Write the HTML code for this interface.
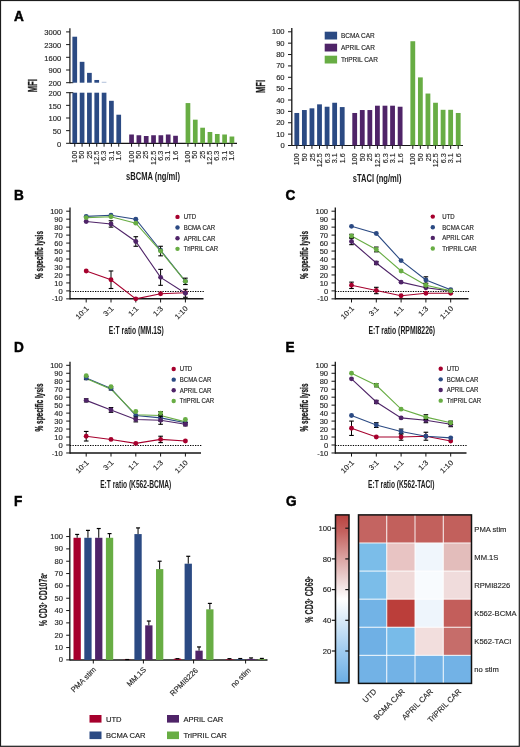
<!DOCTYPE html>
<html><head><meta charset="utf-8"><style>
html,body{margin:0;padding:0;background:#fff;}
#w{filter:opacity(0.999);width:520px;height:747px;}
svg{display:block;font-family:"Liberation Sans", sans-serif;}
text{stroke:#222;stroke-width:0.15px;}
</style></head><body><div id="w">
<svg width="520" height="747" viewBox="0 0 520 747">
<rect x="0" y="0" width="520" height="747" fill="#fff"/>
<rect x="0.5" y="0.5" width="518.8" height="745.8" fill="none" stroke="#1c1c1c" stroke-width="1.2"/>
<text font-size="14" font-weight="bold" transform="translate(14 20.8) scale(0.970 1.000)" fill="#000" style="stroke:#000;stroke-width:0.5px">A</text>
<line x1="69.9" y1="28.2" x2="69.9" y2="83.2" stroke="#151515" stroke-width="1.2"/>
<line x1="66.1" y1="31.9" x2="69.9" y2="31.9" stroke="#151515" stroke-width="1"/>
<text font-size="7.3" text-anchor="end" transform="translate(61.2 35.1) scale(1.040 1.000)" fill="#2a2a2a">3000</text>
<line x1="66.1" y1="44.6" x2="69.9" y2="44.6" stroke="#151515" stroke-width="1"/>
<text font-size="7.3" text-anchor="end" transform="translate(61.2 47.8) scale(1.040 1.000)" fill="#2a2a2a">2300</text>
<line x1="66.1" y1="57.3" x2="69.9" y2="57.3" stroke="#151515" stroke-width="1"/>
<text font-size="7.3" text-anchor="end" transform="translate(61.2 60.5) scale(1.040 1.000)" fill="#2a2a2a">1600</text>
<line x1="66.1" y1="70" x2="69.9" y2="70" stroke="#151515" stroke-width="1"/>
<text font-size="7.3" text-anchor="end" transform="translate(61.2 73.2) scale(1.040 1.000)" fill="#2a2a2a">900</text>
<line x1="66.1" y1="82.7" x2="69.9" y2="82.7" stroke="#151515" stroke-width="1"/>
<text font-size="7.3" text-anchor="end" transform="translate(61.2 85.9) scale(1.040 1.000)" fill="#2a2a2a">200</text>
<line x1="69.9" y1="82.7" x2="73.3" y2="82.7" stroke="#151515" stroke-width="1"/>
<line x1="69.9" y1="92.2" x2="69.9" y2="143.3" stroke="#151515" stroke-width="1.2"/>
<line x1="69.9" y1="92.7" x2="73.3" y2="92.7" stroke="#151515" stroke-width="1"/>
<line x1="66.1" y1="92.7" x2="69.9" y2="92.7" stroke="#151515" stroke-width="1"/>
<text font-size="7.3" text-anchor="end" transform="translate(61.2 95.9) scale(1.040 1.000)" fill="#2a2a2a">200</text>
<line x1="66.1" y1="105.35" x2="69.9" y2="105.35" stroke="#151515" stroke-width="1"/>
<text font-size="7.3" text-anchor="end" transform="translate(61.2 108.55) scale(1.040 1.000)" fill="#2a2a2a">150</text>
<line x1="66.1" y1="118" x2="69.9" y2="118" stroke="#151515" stroke-width="1"/>
<text font-size="7.3" text-anchor="end" transform="translate(61.2 121.2) scale(1.040 1.000)" fill="#2a2a2a">100</text>
<line x1="66.1" y1="130.65" x2="69.9" y2="130.65" stroke="#151515" stroke-width="1"/>
<text font-size="7.3" text-anchor="end" transform="translate(61.2 133.85) scale(1.040 1.000)" fill="#2a2a2a">50</text>
<line x1="66.1" y1="143.3" x2="69.9" y2="143.3" stroke="#151515" stroke-width="1"/>
<text font-size="7.3" text-anchor="end" transform="translate(61.2 146.5) scale(1.040 1.000)" fill="#2a2a2a">0</text>
<line x1="69.9" y1="143.3" x2="237" y2="143.3" stroke="#151515" stroke-width="1.2"/>
<text font-size="12" text-anchor="middle" font-weight="bold" transform="translate(37.4 85.7) rotate(-90) scale(0.639 1.000)" fill="#1a1a1a" style="stroke:#1a1a1a;stroke-width:0.3px">MFI</text>
<rect x="72.4" y="36.71" width="4.7" height="45.99" fill="#2b4a83"/>
<rect x="72.4" y="92.7" width="4.7" height="50.6" fill="#2b4a83"/>
<line x1="74.75" y1="143.3" x2="74.75" y2="146.7" stroke="#151515" stroke-width="1"/>
<text font-size="7.8" text-anchor="end" transform="translate(76.85 150.8) rotate(-90) scale(0.930 1.000)" fill="#2a2a2a">100</text>
<rect x="79.73" y="61.82" width="4.7" height="20.88" fill="#2b4a83"/>
<rect x="79.73" y="92.7" width="4.7" height="50.6" fill="#2b4a83"/>
<line x1="82.08" y1="143.3" x2="82.08" y2="146.7" stroke="#151515" stroke-width="1"/>
<text font-size="7.8" text-anchor="end" transform="translate(84.18 150.8) rotate(-90) scale(0.930 1.000)" fill="#2a2a2a">50</text>
<rect x="87.06" y="72.87" width="4.7" height="9.83" fill="#2b4a83"/>
<rect x="87.06" y="92.7" width="4.7" height="50.6" fill="#2b4a83"/>
<line x1="89.41" y1="143.3" x2="89.41" y2="146.7" stroke="#151515" stroke-width="1"/>
<text font-size="7.8" text-anchor="end" transform="translate(91.51 150.8) rotate(-90) scale(0.930 1.000)" fill="#2a2a2a">25</text>
<rect x="94.39" y="79.98" width="4.7" height="2.72" fill="#2b4a83"/>
<rect x="94.39" y="92.7" width="4.7" height="50.6" fill="#2b4a83"/>
<line x1="96.74" y1="143.3" x2="96.74" y2="146.7" stroke="#151515" stroke-width="1"/>
<text font-size="7.8" text-anchor="end" transform="translate(98.84 150.8) rotate(-90) scale(0.930 1.000)" fill="#2a2a2a">12.5</text>
<rect x="101.72" y="81.8" width="4.7" height="0.9" fill="#a9bad6"/>
<rect x="101.72" y="92.7" width="4.7" height="50.6" fill="#2b4a83"/>
<line x1="104.07" y1="143.3" x2="104.07" y2="146.7" stroke="#151515" stroke-width="1"/>
<text font-size="7.8" text-anchor="end" transform="translate(106.17 150.8) rotate(-90) scale(0.930 1.000)" fill="#2a2a2a">6.3</text>
<rect x="109.05" y="100.8" width="4.7" height="42.5" fill="#2b4a83"/>
<line x1="111.4" y1="143.3" x2="111.4" y2="146.7" stroke="#151515" stroke-width="1"/>
<text font-size="7.8" text-anchor="end" transform="translate(113.5 150.8) rotate(-90) scale(0.930 1.000)" fill="#2a2a2a">3.1</text>
<rect x="116.38" y="114.71" width="4.7" height="28.59" fill="#2b4a83"/>
<line x1="118.73" y1="143.3" x2="118.73" y2="146.7" stroke="#151515" stroke-width="1"/>
<text font-size="7.8" text-anchor="end" transform="translate(120.83 150.8) rotate(-90) scale(0.930 1.000)" fill="#2a2a2a">1.6</text>
<rect x="129.2" y="134.5" width="4.7" height="8.8" fill="#4f2468"/>
<line x1="131.55" y1="143.3" x2="131.55" y2="146.7" stroke="#151515" stroke-width="1"/>
<text font-size="7.8" text-anchor="end" transform="translate(133.65 150.8) rotate(-90) scale(0.930 1.000)" fill="#2a2a2a">100</text>
<rect x="136.53" y="135.25" width="4.7" height="8.05" fill="#4f2468"/>
<line x1="138.88" y1="143.3" x2="138.88" y2="146.7" stroke="#151515" stroke-width="1"/>
<text font-size="7.8" text-anchor="end" transform="translate(140.98 150.8) rotate(-90) scale(0.930 1.000)" fill="#2a2a2a">50</text>
<rect x="143.86" y="136.01" width="4.7" height="7.29" fill="#4f2468"/>
<line x1="146.21" y1="143.3" x2="146.21" y2="146.7" stroke="#151515" stroke-width="1"/>
<text font-size="7.8" text-anchor="end" transform="translate(148.31 150.8) rotate(-90) scale(0.930 1.000)" fill="#2a2a2a">25</text>
<rect x="151.19" y="135.25" width="4.7" height="8.05" fill="#4f2468"/>
<line x1="153.54" y1="143.3" x2="153.54" y2="146.7" stroke="#151515" stroke-width="1"/>
<text font-size="7.8" text-anchor="end" transform="translate(155.64 150.8) rotate(-90) scale(0.930 1.000)" fill="#2a2a2a">12.5</text>
<rect x="158.52" y="135.25" width="4.7" height="8.05" fill="#4f2468"/>
<line x1="160.87" y1="143.3" x2="160.87" y2="146.7" stroke="#151515" stroke-width="1"/>
<text font-size="7.8" text-anchor="end" transform="translate(162.97 150.8) rotate(-90) scale(0.930 1.000)" fill="#2a2a2a">6.3</text>
<rect x="165.85" y="134.5" width="4.7" height="8.8" fill="#4f2468"/>
<line x1="168.2" y1="143.3" x2="168.2" y2="146.7" stroke="#151515" stroke-width="1"/>
<text font-size="7.8" text-anchor="end" transform="translate(170.3 150.8) rotate(-90) scale(0.930 1.000)" fill="#2a2a2a">3.1</text>
<rect x="173.18" y="135.76" width="4.7" height="7.54" fill="#4f2468"/>
<line x1="175.53" y1="143.3" x2="175.53" y2="146.7" stroke="#151515" stroke-width="1"/>
<text font-size="7.8" text-anchor="end" transform="translate(177.63 150.8) rotate(-90) scale(0.930 1.000)" fill="#2a2a2a">1.6</text>
<rect x="185.6" y="103.07" width="4.7" height="40.23" fill="#68ad44"/>
<line x1="187.95" y1="143.3" x2="187.95" y2="146.7" stroke="#151515" stroke-width="1"/>
<text font-size="7.8" text-anchor="end" transform="translate(190.05 150.8) rotate(-90) scale(0.930 1.000)" fill="#2a2a2a">100</text>
<rect x="192.93" y="119.67" width="4.7" height="23.63" fill="#68ad44"/>
<line x1="195.28" y1="143.3" x2="195.28" y2="146.7" stroke="#151515" stroke-width="1"/>
<text font-size="7.8" text-anchor="end" transform="translate(197.38 150.8) rotate(-90) scale(0.930 1.000)" fill="#2a2a2a">50</text>
<rect x="200.26" y="127.72" width="4.7" height="15.58" fill="#68ad44"/>
<line x1="202.61" y1="143.3" x2="202.61" y2="146.7" stroke="#151515" stroke-width="1"/>
<text font-size="7.8" text-anchor="end" transform="translate(204.71 150.8) rotate(-90) scale(0.930 1.000)" fill="#2a2a2a">25</text>
<rect x="207.59" y="131.99" width="4.7" height="11.31" fill="#68ad44"/>
<line x1="209.94" y1="143.3" x2="209.94" y2="146.7" stroke="#151515" stroke-width="1"/>
<text font-size="7.8" text-anchor="end" transform="translate(212.04 150.8) rotate(-90) scale(0.930 1.000)" fill="#2a2a2a">12.5</text>
<rect x="214.92" y="133.99" width="4.7" height="9.31" fill="#68ad44"/>
<line x1="217.27" y1="143.3" x2="217.27" y2="146.7" stroke="#151515" stroke-width="1"/>
<text font-size="7.8" text-anchor="end" transform="translate(219.37 150.8) rotate(-90) scale(0.930 1.000)" fill="#2a2a2a">6.3</text>
<rect x="222.25" y="134.5" width="4.7" height="8.8" fill="#68ad44"/>
<line x1="224.6" y1="143.3" x2="224.6" y2="146.7" stroke="#151515" stroke-width="1"/>
<text font-size="7.8" text-anchor="end" transform="translate(226.7 150.8) rotate(-90) scale(0.930 1.000)" fill="#2a2a2a">3.1</text>
<rect x="229.58" y="136.52" width="4.7" height="6.78" fill="#68ad44"/>
<line x1="231.93" y1="143.3" x2="231.93" y2="146.7" stroke="#151515" stroke-width="1"/>
<text font-size="7.8" text-anchor="end" transform="translate(234.03 150.8) rotate(-90) scale(0.930 1.000)" fill="#2a2a2a">1.6</text>
<text font-size="10.2" font-weight="bold" transform="translate(126 179.8) scale(0.743 1.000)" fill="#1a1a1a" style="stroke:none">sBCMA (ng/ml)</text>
<line x1="291.8" y1="28.1" x2="291.8" y2="145.5" stroke="#151515" stroke-width="1.3"/>
<line x1="288" y1="145.5" x2="291.8" y2="145.5" stroke="#151515" stroke-width="1"/>
<text font-size="7.3" text-anchor="end" transform="translate(284.6 148) scale(1.040 1.000)" fill="#2a2a2a">0</text>
<line x1="288" y1="134.13" x2="291.8" y2="134.13" stroke="#151515" stroke-width="1"/>
<text font-size="7.3" text-anchor="end" transform="translate(284.6 136.63) scale(1.040 1.000)" fill="#2a2a2a">10</text>
<line x1="288" y1="122.76" x2="291.8" y2="122.76" stroke="#151515" stroke-width="1"/>
<text font-size="7.3" text-anchor="end" transform="translate(284.6 125.26) scale(1.040 1.000)" fill="#2a2a2a">20</text>
<line x1="288" y1="111.39" x2="291.8" y2="111.39" stroke="#151515" stroke-width="1"/>
<text font-size="7.3" text-anchor="end" transform="translate(284.6 113.89) scale(1.040 1.000)" fill="#2a2a2a">30</text>
<line x1="288" y1="100.02" x2="291.8" y2="100.02" stroke="#151515" stroke-width="1"/>
<text font-size="7.3" text-anchor="end" transform="translate(284.6 102.52) scale(1.040 1.000)" fill="#2a2a2a">40</text>
<line x1="288" y1="88.65" x2="291.8" y2="88.65" stroke="#151515" stroke-width="1"/>
<text font-size="7.3" text-anchor="end" transform="translate(284.6 91.15) scale(1.040 1.000)" fill="#2a2a2a">50</text>
<line x1="288" y1="77.28" x2="291.8" y2="77.28" stroke="#151515" stroke-width="1"/>
<text font-size="7.3" text-anchor="end" transform="translate(284.6 79.78) scale(1.040 1.000)" fill="#2a2a2a">60</text>
<line x1="288" y1="65.91" x2="291.8" y2="65.91" stroke="#151515" stroke-width="1"/>
<text font-size="7.3" text-anchor="end" transform="translate(284.6 68.41) scale(1.040 1.000)" fill="#2a2a2a">70</text>
<line x1="288" y1="54.54" x2="291.8" y2="54.54" stroke="#151515" stroke-width="1"/>
<text font-size="7.3" text-anchor="end" transform="translate(284.6 57.04) scale(1.040 1.000)" fill="#2a2a2a">80</text>
<line x1="288" y1="43.17" x2="291.8" y2="43.17" stroke="#151515" stroke-width="1"/>
<text font-size="7.3" text-anchor="end" transform="translate(284.6 45.67) scale(1.040 1.000)" fill="#2a2a2a">90</text>
<line x1="288" y1="31.8" x2="291.8" y2="31.8" stroke="#151515" stroke-width="1"/>
<text font-size="7.3" text-anchor="end" transform="translate(284.6 34.3) scale(1.040 1.000)" fill="#2a2a2a">100</text>
<line x1="291.8" y1="145.5" x2="463" y2="145.5" stroke="#151515" stroke-width="1.2"/>
<text font-size="12" text-anchor="middle" font-weight="bold" transform="translate(265 86.5) rotate(-90) scale(0.634 1.000)" fill="#1a1a1a" style="stroke:#1a1a1a;stroke-width:0.3px">MFI</text>
<rect x="294.4" y="112.98" width="4.8" height="32.52" fill="#2b4a83"/>
<line x1="296.8" y1="145.5" x2="296.8" y2="148.9" stroke="#151515" stroke-width="1"/>
<text font-size="7.8" text-anchor="end" transform="translate(299.4 153.1) rotate(-90) scale(0.930 1.000)" fill="#2a2a2a">100</text>
<rect x="301.97" y="110.03" width="4.8" height="35.47" fill="#2b4a83"/>
<line x1="304.37" y1="145.5" x2="304.37" y2="148.9" stroke="#151515" stroke-width="1"/>
<text font-size="7.8" text-anchor="end" transform="translate(306.97 153.1) rotate(-90) scale(0.930 1.000)" fill="#2a2a2a">50</text>
<rect x="309.54" y="108.32" width="4.8" height="37.18" fill="#2b4a83"/>
<line x1="311.94" y1="145.5" x2="311.94" y2="148.9" stroke="#151515" stroke-width="1"/>
<text font-size="7.8" text-anchor="end" transform="translate(314.54 153.1) rotate(-90) scale(0.930 1.000)" fill="#2a2a2a">25</text>
<rect x="317.11" y="104.34" width="4.8" height="41.16" fill="#2b4a83"/>
<line x1="319.51" y1="145.5" x2="319.51" y2="148.9" stroke="#151515" stroke-width="1"/>
<text font-size="7.8" text-anchor="end" transform="translate(322.11 153.1) rotate(-90) scale(0.930 1.000)" fill="#2a2a2a">12.5</text>
<rect x="324.68" y="106.73" width="4.8" height="38.77" fill="#2b4a83"/>
<line x1="327.08" y1="145.5" x2="327.08" y2="148.9" stroke="#151515" stroke-width="1"/>
<text font-size="7.8" text-anchor="end" transform="translate(329.68 153.1) rotate(-90) scale(0.930 1.000)" fill="#2a2a2a">6.3</text>
<rect x="332.25" y="102.75" width="4.8" height="42.75" fill="#2b4a83"/>
<line x1="334.65" y1="145.5" x2="334.65" y2="148.9" stroke="#151515" stroke-width="1"/>
<text font-size="7.8" text-anchor="end" transform="translate(337.25 153.1) rotate(-90) scale(0.930 1.000)" fill="#2a2a2a">3.1</text>
<rect x="339.82" y="107.07" width="4.8" height="38.43" fill="#2b4a83"/>
<line x1="342.22" y1="145.5" x2="342.22" y2="148.9" stroke="#151515" stroke-width="1"/>
<text font-size="7.8" text-anchor="end" transform="translate(344.82 153.1) rotate(-90) scale(0.930 1.000)" fill="#2a2a2a">1.6</text>
<rect x="352.3" y="112.98" width="4.8" height="32.52" fill="#4f2468"/>
<line x1="354.7" y1="145.5" x2="354.7" y2="148.9" stroke="#151515" stroke-width="1"/>
<text font-size="7.8" text-anchor="end" transform="translate(357.3 153.1) rotate(-90) scale(0.930 1.000)" fill="#2a2a2a">100</text>
<rect x="359.87" y="110.03" width="4.8" height="35.47" fill="#4f2468"/>
<line x1="362.27" y1="145.5" x2="362.27" y2="148.9" stroke="#151515" stroke-width="1"/>
<text font-size="7.8" text-anchor="end" transform="translate(364.87 153.1) rotate(-90) scale(0.930 1.000)" fill="#2a2a2a">50</text>
<rect x="367.44" y="110.03" width="4.8" height="35.47" fill="#4f2468"/>
<line x1="369.84" y1="145.5" x2="369.84" y2="148.9" stroke="#151515" stroke-width="1"/>
<text font-size="7.8" text-anchor="end" transform="translate(372.44 153.1) rotate(-90) scale(0.930 1.000)" fill="#2a2a2a">25</text>
<rect x="375.01" y="105.7" width="4.8" height="39.8" fill="#4f2468"/>
<line x1="377.41" y1="145.5" x2="377.41" y2="148.9" stroke="#151515" stroke-width="1"/>
<text font-size="7.8" text-anchor="end" transform="translate(380.01 153.1) rotate(-90) scale(0.930 1.000)" fill="#2a2a2a">12.5</text>
<rect x="382.58" y="105.7" width="4.8" height="39.8" fill="#4f2468"/>
<line x1="384.98" y1="145.5" x2="384.98" y2="148.9" stroke="#151515" stroke-width="1"/>
<text font-size="7.8" text-anchor="end" transform="translate(387.58 153.1) rotate(-90) scale(0.930 1.000)" fill="#2a2a2a">6.3</text>
<rect x="390.15" y="105.7" width="4.8" height="39.8" fill="#4f2468"/>
<line x1="392.55" y1="145.5" x2="392.55" y2="148.9" stroke="#151515" stroke-width="1"/>
<text font-size="7.8" text-anchor="end" transform="translate(395.15 153.1) rotate(-90) scale(0.930 1.000)" fill="#2a2a2a">3.1</text>
<rect x="397.72" y="106.73" width="4.8" height="38.77" fill="#4f2468"/>
<line x1="400.12" y1="145.5" x2="400.12" y2="148.9" stroke="#151515" stroke-width="1"/>
<text font-size="7.8" text-anchor="end" transform="translate(402.72 153.1) rotate(-90) scale(0.930 1.000)" fill="#2a2a2a">1.6</text>
<rect x="410.4" y="41.24" width="4.8" height="104.26" fill="#68ad44"/>
<line x1="412.8" y1="145.5" x2="412.8" y2="148.9" stroke="#151515" stroke-width="1"/>
<text font-size="7.8" text-anchor="end" transform="translate(415.4 153.1) rotate(-90) scale(0.930 1.000)" fill="#2a2a2a">100</text>
<rect x="417.97" y="77.39" width="4.8" height="68.11" fill="#68ad44"/>
<line x1="420.37" y1="145.5" x2="420.37" y2="148.9" stroke="#151515" stroke-width="1"/>
<text font-size="7.8" text-anchor="end" transform="translate(422.97 153.1) rotate(-90) scale(0.930 1.000)" fill="#2a2a2a">50</text>
<rect x="425.54" y="93.54" width="4.8" height="51.96" fill="#68ad44"/>
<line x1="427.94" y1="145.5" x2="427.94" y2="148.9" stroke="#151515" stroke-width="1"/>
<text font-size="7.8" text-anchor="end" transform="translate(430.54 153.1) rotate(-90) scale(0.930 1.000)" fill="#2a2a2a">25</text>
<rect x="433.11" y="102.75" width="4.8" height="42.75" fill="#68ad44"/>
<line x1="435.51" y1="145.5" x2="435.51" y2="148.9" stroke="#151515" stroke-width="1"/>
<text font-size="7.8" text-anchor="end" transform="translate(438.11 153.1) rotate(-90) scale(0.930 1.000)" fill="#2a2a2a">12.5</text>
<rect x="440.68" y="109.8" width="4.8" height="35.7" fill="#68ad44"/>
<line x1="443.08" y1="145.5" x2="443.08" y2="148.9" stroke="#151515" stroke-width="1"/>
<text font-size="7.8" text-anchor="end" transform="translate(445.68 153.1) rotate(-90) scale(0.930 1.000)" fill="#2a2a2a">6.3</text>
<rect x="448.25" y="109.8" width="4.8" height="35.7" fill="#68ad44"/>
<line x1="450.65" y1="145.5" x2="450.65" y2="148.9" stroke="#151515" stroke-width="1"/>
<text font-size="7.8" text-anchor="end" transform="translate(453.25 153.1) rotate(-90) scale(0.930 1.000)" fill="#2a2a2a">3.1</text>
<rect x="455.82" y="112.98" width="4.8" height="32.52" fill="#68ad44"/>
<line x1="458.22" y1="145.5" x2="458.22" y2="148.9" stroke="#151515" stroke-width="1"/>
<text font-size="7.8" text-anchor="end" transform="translate(460.82 153.1) rotate(-90) scale(0.930 1.000)" fill="#2a2a2a">1.6</text>
<text font-size="10.2" font-weight="bold" transform="translate(352.8 181.8) scale(0.743 1.000)" fill="#1a1a1a" style="stroke:none">sTACI (ng/ml)</text>
<rect x="324.7" y="31.7" width="12.4" height="7.8" fill="#2b4a83"/>
<text font-size="6.9" transform="translate(340.9 38.05) scale(0.940 1.000)" fill="#2a2a2a">BCMA CAR</text>
<rect x="324.7" y="43.7" width="12.4" height="7.8" fill="#4f2468"/>
<text font-size="6.9" transform="translate(340.9 50.05) scale(0.940 1.000)" fill="#2a2a2a">APRIL CAR</text>
<rect x="324.7" y="55.7" width="12.4" height="7.8" fill="#68ad44"/>
<text font-size="6.9" transform="translate(340.9 62.05) scale(0.940 1.000)" fill="#2a2a2a">TriPRIL CAR</text>
<text font-size="14" font-weight="bold" transform="translate(14 200.2) scale(0.970 1.000)" fill="#000" style="stroke:#000;stroke-width:0.5px">B</text>
<line x1="70" y1="207.6" x2="70" y2="299.57" stroke="#151515" stroke-width="1.3"/>
<line x1="66.2" y1="298.87" x2="70" y2="298.87" stroke="#151515" stroke-width="1"/>
<text font-size="7.3" text-anchor="end" transform="translate(62.8 301.47) scale(1.040 1.000)" fill="#2a2a2a">-10</text>
<line x1="66.2" y1="290.9" x2="70" y2="290.9" stroke="#151515" stroke-width="1"/>
<text font-size="7.3" text-anchor="end" transform="translate(62.8 293.5) scale(1.040 1.000)" fill="#2a2a2a">0</text>
<line x1="66.2" y1="282.93" x2="70" y2="282.93" stroke="#151515" stroke-width="1"/>
<text font-size="7.3" text-anchor="end" transform="translate(62.8 285.53) scale(1.040 1.000)" fill="#2a2a2a">10</text>
<line x1="66.2" y1="274.96" x2="70" y2="274.96" stroke="#151515" stroke-width="1"/>
<text font-size="7.3" text-anchor="end" transform="translate(62.8 277.56) scale(1.040 1.000)" fill="#2a2a2a">20</text>
<line x1="66.2" y1="266.99" x2="70" y2="266.99" stroke="#151515" stroke-width="1"/>
<text font-size="7.3" text-anchor="end" transform="translate(62.8 269.59) scale(1.040 1.000)" fill="#2a2a2a">30</text>
<line x1="66.2" y1="259.02" x2="70" y2="259.02" stroke="#151515" stroke-width="1"/>
<text font-size="7.3" text-anchor="end" transform="translate(62.8 261.62) scale(1.040 1.000)" fill="#2a2a2a">40</text>
<line x1="66.2" y1="251.05" x2="70" y2="251.05" stroke="#151515" stroke-width="1"/>
<text font-size="7.3" text-anchor="end" transform="translate(62.8 253.65) scale(1.040 1.000)" fill="#2a2a2a">50</text>
<line x1="66.2" y1="243.08" x2="70" y2="243.08" stroke="#151515" stroke-width="1"/>
<text font-size="7.3" text-anchor="end" transform="translate(62.8 245.68) scale(1.040 1.000)" fill="#2a2a2a">60</text>
<line x1="66.2" y1="235.11" x2="70" y2="235.11" stroke="#151515" stroke-width="1"/>
<text font-size="7.3" text-anchor="end" transform="translate(62.8 237.71) scale(1.040 1.000)" fill="#2a2a2a">70</text>
<line x1="66.2" y1="227.14" x2="70" y2="227.14" stroke="#151515" stroke-width="1"/>
<text font-size="7.3" text-anchor="end" transform="translate(62.8 229.74) scale(1.040 1.000)" fill="#2a2a2a">80</text>
<line x1="66.2" y1="219.17" x2="70" y2="219.17" stroke="#151515" stroke-width="1"/>
<text font-size="7.3" text-anchor="end" transform="translate(62.8 221.77) scale(1.040 1.000)" fill="#2a2a2a">90</text>
<line x1="66.2" y1="211.2" x2="70" y2="211.2" stroke="#151515" stroke-width="1"/>
<text font-size="7.3" text-anchor="end" transform="translate(62.8 213.8) scale(1.040 1.000)" fill="#2a2a2a">100</text>
<line x1="70" y1="298.87" x2="203.5" y2="298.87" stroke="#151515" stroke-width="1.5"/>
<line x1="70" y1="291.5" x2="204.5" y2="291.5" stroke="#000" stroke-width="1.1" stroke-dasharray="1.3 1.2"/>
<line x1="86.2" y1="298.87" x2="86.2" y2="302.47" stroke="#151515" stroke-width="1"/>
<text font-size="7.4" text-anchor="end" transform="translate(89.2 309.07) rotate(-45) scale(1.050 1.000)" fill="#2a2a2a">10:1</text>
<line x1="111" y1="298.87" x2="111" y2="302.47" stroke="#151515" stroke-width="1"/>
<text font-size="7.4" text-anchor="end" transform="translate(114 309.07) rotate(-45) scale(1.050 1.000)" fill="#2a2a2a">3:1</text>
<line x1="135.8" y1="298.87" x2="135.8" y2="302.47" stroke="#151515" stroke-width="1"/>
<text font-size="7.4" text-anchor="end" transform="translate(138.8 309.07) rotate(-45) scale(1.050 1.000)" fill="#2a2a2a">1:1</text>
<line x1="160.6" y1="298.87" x2="160.6" y2="302.47" stroke="#151515" stroke-width="1"/>
<text font-size="7.4" text-anchor="end" transform="translate(163.6 309.07) rotate(-45) scale(1.050 1.000)" fill="#2a2a2a">1:3</text>
<line x1="185.4" y1="298.87" x2="185.4" y2="302.47" stroke="#151515" stroke-width="1"/>
<text font-size="7.4" text-anchor="end" transform="translate(188.4 309.07) rotate(-45) scale(1.050 1.000)" fill="#2a2a2a">1:10</text>
<text font-size="10.5" text-anchor="middle" font-weight="bold" transform="translate(42.9 255.03) rotate(-90) scale(0.621 1.000)" fill="#1a1a1a" style="stroke:#1a1a1a;stroke-width:0.3px">% specific lysis</text>
<text font-size="10" font-weight="bold" transform="translate(108.8 334.1) scale(0.674 1.000)" fill="#1a1a1a" style="stroke:none">E:T ratio (MM.1S)</text>
<polyline points="86.2,270.97 111,279.74 135.8,298.87 160.6,293.69 185.4,292.73" fill="none" stroke="#a6002d" stroke-width="1.1"/>
<polyline points="86.2,216.38 111,215.18 135.8,219.17 160.6,250.25 185.4,281.34" fill="none" stroke="#2b4a83" stroke-width="1.1"/>
<polyline points="86.2,221.56 111,223.95 135.8,241.49 160.6,277.35 185.4,293.29" fill="none" stroke="#4f2468" stroke-width="1.1"/>
<polyline points="86.2,217.58 111,216.78 135.8,223.15 160.6,251.05 185.4,281.34" fill="none" stroke="#68ad44" stroke-width="1.1"/>
<line x1="111" y1="270.97" x2="111" y2="288.51" stroke="#000" stroke-width="1"/>
<line x1="108.7" y1="270.97" x2="113.3" y2="270.97" stroke="#000" stroke-width="1.1"/>
<line x1="108.7" y1="288.51" x2="113.3" y2="288.51" stroke="#000" stroke-width="1.1"/>
<circle cx="86.2" cy="270.97" r="2.45" fill="#a6002d"/>
<circle cx="111" cy="279.74" r="2.45" fill="#a6002d"/>
<circle cx="135.8" cy="298.87" r="2.45" fill="#a6002d"/>
<circle cx="160.6" cy="293.69" r="2.45" fill="#a6002d"/>
<circle cx="185.4" cy="292.73" r="2.45" fill="#a6002d"/>
<circle cx="86.2" cy="216.38" r="2.45" fill="#2b4a83"/>
<circle cx="111" cy="215.18" r="2.45" fill="#2b4a83"/>
<circle cx="135.8" cy="219.17" r="2.45" fill="#2b4a83"/>
<circle cx="160.6" cy="250.25" r="2.45" fill="#2b4a83"/>
<circle cx="185.4" cy="281.34" r="2.45" fill="#2b4a83"/>
<line x1="111" y1="220.76" x2="111" y2="227.14" stroke="#000" stroke-width="1"/>
<line x1="108.7" y1="220.76" x2="113.3" y2="220.76" stroke="#000" stroke-width="1.1"/>
<line x1="108.7" y1="227.14" x2="113.3" y2="227.14" stroke="#000" stroke-width="1.1"/>
<line x1="135.8" y1="236.7" x2="135.8" y2="246.27" stroke="#000" stroke-width="1"/>
<line x1="133.5" y1="236.7" x2="138.1" y2="236.7" stroke="#000" stroke-width="1.1"/>
<line x1="133.5" y1="246.27" x2="138.1" y2="246.27" stroke="#000" stroke-width="1.1"/>
<line x1="160.6" y1="269.38" x2="160.6" y2="285.32" stroke="#000" stroke-width="1"/>
<line x1="158.3" y1="269.38" x2="162.9" y2="269.38" stroke="#000" stroke-width="1.1"/>
<line x1="158.3" y1="285.32" x2="162.9" y2="285.32" stroke="#000" stroke-width="1.1"/>
<line x1="185.4" y1="289.31" x2="185.4" y2="297.28" stroke="#000" stroke-width="1"/>
<line x1="183.1" y1="289.31" x2="187.7" y2="289.31" stroke="#000" stroke-width="1.1"/>
<line x1="183.1" y1="297.28" x2="187.7" y2="297.28" stroke="#000" stroke-width="1.1"/>
<circle cx="86.2" cy="221.56" r="2.45" fill="#4f2468"/>
<circle cx="111" cy="223.95" r="2.45" fill="#4f2468"/>
<circle cx="135.8" cy="241.49" r="2.45" fill="#4f2468"/>
<circle cx="160.6" cy="277.35" r="2.45" fill="#4f2468"/>
<circle cx="185.4" cy="293.29" r="2.45" fill="#4f2468"/>
<line x1="160.6" y1="246.27" x2="160.6" y2="255.83" stroke="#000" stroke-width="1"/>
<line x1="158.3" y1="246.27" x2="162.9" y2="246.27" stroke="#000" stroke-width="1.1"/>
<line x1="158.3" y1="255.83" x2="162.9" y2="255.83" stroke="#000" stroke-width="1.1"/>
<line x1="185.4" y1="278.15" x2="185.4" y2="284.52" stroke="#000" stroke-width="1"/>
<line x1="183.1" y1="278.15" x2="187.7" y2="278.15" stroke="#000" stroke-width="1.1"/>
<line x1="183.1" y1="284.52" x2="187.7" y2="284.52" stroke="#000" stroke-width="1.1"/>
<circle cx="86.2" cy="217.58" r="2.45" fill="#68ad44"/>
<circle cx="111" cy="216.78" r="2.45" fill="#68ad44"/>
<circle cx="135.8" cy="223.15" r="2.45" fill="#68ad44"/>
<circle cx="160.6" cy="251.05" r="2.45" fill="#68ad44"/>
<circle cx="185.4" cy="281.34" r="2.45" fill="#68ad44"/>
<circle cx="177.5" cy="216.9" r="2.2" fill="#a6002d"/>
<text font-size="6.5" transform="translate(183.7 219.2) scale(0.930 1.000)" fill="#2a2a2a">UTD</text>
<circle cx="177.5" cy="227.55" r="2.2" fill="#2b4a83"/>
<text font-size="6.5" transform="translate(183.7 229.85) scale(0.930 1.000)" fill="#2a2a2a">BCMA CAR</text>
<circle cx="177.5" cy="238.2" r="2.2" fill="#4f2468"/>
<text font-size="6.5" transform="translate(183.7 240.5) scale(0.930 1.000)" fill="#2a2a2a">APRIL CAR</text>
<circle cx="177.5" cy="248.85" r="2.2" fill="#68ad44"/>
<text font-size="6.5" transform="translate(183.7 251.15) scale(0.930 1.000)" fill="#2a2a2a">TriPRIL CAR</text>
<text font-size="14" font-weight="bold" transform="translate(285.6 200.2) scale(0.970 1.000)" fill="#000" style="stroke:#000;stroke-width:0.5px">C</text>
<line x1="335.3" y1="207.6" x2="335.3" y2="299.57" stroke="#151515" stroke-width="1.3"/>
<line x1="331.5" y1="298.87" x2="335.3" y2="298.87" stroke="#151515" stroke-width="1"/>
<text font-size="7.3" text-anchor="end" transform="translate(328.1 301.47) scale(1.040 1.000)" fill="#2a2a2a">-10</text>
<line x1="331.5" y1="290.9" x2="335.3" y2="290.9" stroke="#151515" stroke-width="1"/>
<text font-size="7.3" text-anchor="end" transform="translate(328.1 293.5) scale(1.040 1.000)" fill="#2a2a2a">0</text>
<line x1="331.5" y1="282.93" x2="335.3" y2="282.93" stroke="#151515" stroke-width="1"/>
<text font-size="7.3" text-anchor="end" transform="translate(328.1 285.53) scale(1.040 1.000)" fill="#2a2a2a">10</text>
<line x1="331.5" y1="274.96" x2="335.3" y2="274.96" stroke="#151515" stroke-width="1"/>
<text font-size="7.3" text-anchor="end" transform="translate(328.1 277.56) scale(1.040 1.000)" fill="#2a2a2a">20</text>
<line x1="331.5" y1="266.99" x2="335.3" y2="266.99" stroke="#151515" stroke-width="1"/>
<text font-size="7.3" text-anchor="end" transform="translate(328.1 269.59) scale(1.040 1.000)" fill="#2a2a2a">30</text>
<line x1="331.5" y1="259.02" x2="335.3" y2="259.02" stroke="#151515" stroke-width="1"/>
<text font-size="7.3" text-anchor="end" transform="translate(328.1 261.62) scale(1.040 1.000)" fill="#2a2a2a">40</text>
<line x1="331.5" y1="251.05" x2="335.3" y2="251.05" stroke="#151515" stroke-width="1"/>
<text font-size="7.3" text-anchor="end" transform="translate(328.1 253.65) scale(1.040 1.000)" fill="#2a2a2a">50</text>
<line x1="331.5" y1="243.08" x2="335.3" y2="243.08" stroke="#151515" stroke-width="1"/>
<text font-size="7.3" text-anchor="end" transform="translate(328.1 245.68) scale(1.040 1.000)" fill="#2a2a2a">60</text>
<line x1="331.5" y1="235.11" x2="335.3" y2="235.11" stroke="#151515" stroke-width="1"/>
<text font-size="7.3" text-anchor="end" transform="translate(328.1 237.71) scale(1.040 1.000)" fill="#2a2a2a">70</text>
<line x1="331.5" y1="227.14" x2="335.3" y2="227.14" stroke="#151515" stroke-width="1"/>
<text font-size="7.3" text-anchor="end" transform="translate(328.1 229.74) scale(1.040 1.000)" fill="#2a2a2a">80</text>
<line x1="331.5" y1="219.17" x2="335.3" y2="219.17" stroke="#151515" stroke-width="1"/>
<text font-size="7.3" text-anchor="end" transform="translate(328.1 221.77) scale(1.040 1.000)" fill="#2a2a2a">90</text>
<line x1="331.5" y1="211.2" x2="335.3" y2="211.2" stroke="#151515" stroke-width="1"/>
<text font-size="7.3" text-anchor="end" transform="translate(328.1 213.8) scale(1.040 1.000)" fill="#2a2a2a">100</text>
<line x1="335.3" y1="298.87" x2="468.5" y2="298.87" stroke="#151515" stroke-width="1.5"/>
<line x1="335.3" y1="291.5" x2="469.5" y2="291.5" stroke="#000" stroke-width="1.1" stroke-dasharray="1.3 1.2"/>
<line x1="351.5" y1="298.87" x2="351.5" y2="302.47" stroke="#151515" stroke-width="1"/>
<text font-size="7.4" text-anchor="end" transform="translate(354.5 309.07) rotate(-45) scale(1.050 1.000)" fill="#2a2a2a">10:1</text>
<line x1="376.3" y1="298.87" x2="376.3" y2="302.47" stroke="#151515" stroke-width="1"/>
<text font-size="7.4" text-anchor="end" transform="translate(379.3 309.07) rotate(-45) scale(1.050 1.000)" fill="#2a2a2a">3:1</text>
<line x1="401.1" y1="298.87" x2="401.1" y2="302.47" stroke="#151515" stroke-width="1"/>
<text font-size="7.4" text-anchor="end" transform="translate(404.1 309.07) rotate(-45) scale(1.050 1.000)" fill="#2a2a2a">1:1</text>
<line x1="425.9" y1="298.87" x2="425.9" y2="302.47" stroke="#151515" stroke-width="1"/>
<text font-size="7.4" text-anchor="end" transform="translate(428.9 309.07) rotate(-45) scale(1.050 1.000)" fill="#2a2a2a">1:3</text>
<line x1="450.7" y1="298.87" x2="450.7" y2="302.47" stroke="#151515" stroke-width="1"/>
<text font-size="7.4" text-anchor="end" transform="translate(453.7 309.07) rotate(-45) scale(1.050 1.000)" fill="#2a2a2a">1:10</text>
<text font-size="10.5" text-anchor="middle" font-weight="bold" transform="translate(308.3 255.03) rotate(-90) scale(0.621 1.000)" fill="#1a1a1a" style="stroke:#1a1a1a;stroke-width:0.3px">% specific lysis</text>
<text font-size="10" font-weight="bold" transform="translate(368.4 334.1) scale(0.687 1.000)" fill="#1a1a1a" style="stroke:none">E:T ratio (RPMI8226)</text>
<polyline points="351.5,285.32 376.3,290.5 401.1,295.68 425.9,293.29 450.7,293.29" fill="none" stroke="#a6002d" stroke-width="1.1"/>
<polyline points="351.5,226.34 376.3,233.52 401.1,260.61 425.9,279.98 450.7,289.7" fill="none" stroke="#2b4a83" stroke-width="1.1"/>
<polyline points="351.5,241.49 376.3,263 401.1,282.13 425.9,287.71 450.7,290.9" fill="none" stroke="#4f2468" stroke-width="1.1"/>
<polyline points="351.5,235.91 376.3,249.46 401.1,270.97 425.9,285.32 450.7,290.9" fill="none" stroke="#68ad44" stroke-width="1.1"/>
<line x1="351.5" y1="282.13" x2="351.5" y2="288.51" stroke="#000" stroke-width="1"/>
<line x1="349.2" y1="282.13" x2="353.8" y2="282.13" stroke="#000" stroke-width="1.1"/>
<line x1="349.2" y1="288.51" x2="353.8" y2="288.51" stroke="#000" stroke-width="1.1"/>
<line x1="376.3" y1="287.31" x2="376.3" y2="293.69" stroke="#000" stroke-width="1"/>
<line x1="374" y1="287.31" x2="378.6" y2="287.31" stroke="#000" stroke-width="1.1"/>
<line x1="374" y1="293.69" x2="378.6" y2="293.69" stroke="#000" stroke-width="1.1"/>
<circle cx="351.5" cy="285.32" r="2.45" fill="#a6002d"/>
<circle cx="376.3" cy="290.5" r="2.45" fill="#a6002d"/>
<circle cx="401.1" cy="295.68" r="2.45" fill="#a6002d"/>
<circle cx="425.9" cy="293.29" r="2.45" fill="#a6002d"/>
<circle cx="450.7" cy="293.29" r="2.45" fill="#a6002d"/>
<line x1="425.9" y1="276.79" x2="425.9" y2="283.17" stroke="#000" stroke-width="1"/>
<line x1="423.6" y1="276.79" x2="428.2" y2="276.79" stroke="#000" stroke-width="1.1"/>
<line x1="423.6" y1="283.17" x2="428.2" y2="283.17" stroke="#000" stroke-width="1.1"/>
<circle cx="351.5" cy="226.34" r="2.45" fill="#2b4a83"/>
<circle cx="376.3" cy="233.52" r="2.45" fill="#2b4a83"/>
<circle cx="401.1" cy="260.61" r="2.45" fill="#2b4a83"/>
<circle cx="425.9" cy="279.98" r="2.45" fill="#2b4a83"/>
<circle cx="450.7" cy="289.7" r="2.45" fill="#2b4a83"/>
<line x1="351.5" y1="238.3" x2="351.5" y2="244.67" stroke="#000" stroke-width="1"/>
<line x1="349.2" y1="238.3" x2="353.8" y2="238.3" stroke="#000" stroke-width="1.1"/>
<line x1="349.2" y1="244.67" x2="353.8" y2="244.67" stroke="#000" stroke-width="1.1"/>
<line x1="376.3" y1="261.41" x2="376.3" y2="264.6" stroke="#000" stroke-width="1"/>
<line x1="374" y1="261.41" x2="378.6" y2="261.41" stroke="#000" stroke-width="1.1"/>
<line x1="374" y1="264.6" x2="378.6" y2="264.6" stroke="#000" stroke-width="1.1"/>
<circle cx="351.5" cy="241.49" r="2.45" fill="#4f2468"/>
<circle cx="376.3" cy="263" r="2.45" fill="#4f2468"/>
<circle cx="401.1" cy="282.13" r="2.45" fill="#4f2468"/>
<circle cx="425.9" cy="287.71" r="2.45" fill="#4f2468"/>
<circle cx="450.7" cy="290.9" r="2.45" fill="#4f2468"/>
<line x1="351.5" y1="234.31" x2="351.5" y2="237.5" stroke="#000" stroke-width="1"/>
<line x1="349.2" y1="234.31" x2="353.8" y2="234.31" stroke="#000" stroke-width="1.1"/>
<line x1="349.2" y1="237.5" x2="353.8" y2="237.5" stroke="#000" stroke-width="1.1"/>
<line x1="376.3" y1="247.06" x2="376.3" y2="251.85" stroke="#000" stroke-width="1"/>
<line x1="374" y1="247.06" x2="378.6" y2="247.06" stroke="#000" stroke-width="1.1"/>
<line x1="374" y1="251.85" x2="378.6" y2="251.85" stroke="#000" stroke-width="1.1"/>
<line x1="425.9" y1="283.73" x2="425.9" y2="286.91" stroke="#000" stroke-width="1"/>
<line x1="423.6" y1="283.73" x2="428.2" y2="283.73" stroke="#000" stroke-width="1.1"/>
<line x1="423.6" y1="286.91" x2="428.2" y2="286.91" stroke="#000" stroke-width="1.1"/>
<circle cx="351.5" cy="235.91" r="2.45" fill="#68ad44"/>
<circle cx="376.3" cy="249.46" r="2.45" fill="#68ad44"/>
<circle cx="401.1" cy="270.97" r="2.45" fill="#68ad44"/>
<circle cx="425.9" cy="285.32" r="2.45" fill="#68ad44"/>
<circle cx="450.7" cy="290.9" r="2.45" fill="#68ad44"/>
<circle cx="432.8" cy="216.6" r="2.2" fill="#a6002d"/>
<text font-size="6.5" transform="translate(442.3 218.9) scale(0.930 1.000)" fill="#2a2a2a">UTD</text>
<circle cx="432.8" cy="227.25" r="2.2" fill="#2b4a83"/>
<text font-size="6.5" transform="translate(442.3 229.55) scale(0.930 1.000)" fill="#2a2a2a">BCMA CAR</text>
<circle cx="432.8" cy="237.9" r="2.2" fill="#4f2468"/>
<text font-size="6.5" transform="translate(442.3 240.2) scale(0.930 1.000)" fill="#2a2a2a">APRIL CAR</text>
<circle cx="432.8" cy="248.55" r="2.2" fill="#68ad44"/>
<text font-size="6.5" transform="translate(442.3 250.85) scale(0.930 1.000)" fill="#2a2a2a">TriPRIL CAR</text>
<text font-size="14" font-weight="bold" transform="translate(14 352.1) scale(0.970 1.000)" fill="#000" style="stroke:#000;stroke-width:0.5px">D</text>
<line x1="70" y1="361.7" x2="70" y2="453.67" stroke="#151515" stroke-width="1.3"/>
<line x1="66.2" y1="452.97" x2="70" y2="452.97" stroke="#151515" stroke-width="1"/>
<text font-size="7.3" text-anchor="end" transform="translate(62.8 455.57) scale(1.040 1.000)" fill="#2a2a2a">-10</text>
<line x1="66.2" y1="445" x2="70" y2="445" stroke="#151515" stroke-width="1"/>
<text font-size="7.3" text-anchor="end" transform="translate(62.8 447.6) scale(1.040 1.000)" fill="#2a2a2a">0</text>
<line x1="66.2" y1="437.03" x2="70" y2="437.03" stroke="#151515" stroke-width="1"/>
<text font-size="7.3" text-anchor="end" transform="translate(62.8 439.63) scale(1.040 1.000)" fill="#2a2a2a">10</text>
<line x1="66.2" y1="429.06" x2="70" y2="429.06" stroke="#151515" stroke-width="1"/>
<text font-size="7.3" text-anchor="end" transform="translate(62.8 431.66) scale(1.040 1.000)" fill="#2a2a2a">20</text>
<line x1="66.2" y1="421.09" x2="70" y2="421.09" stroke="#151515" stroke-width="1"/>
<text font-size="7.3" text-anchor="end" transform="translate(62.8 423.69) scale(1.040 1.000)" fill="#2a2a2a">30</text>
<line x1="66.2" y1="413.12" x2="70" y2="413.12" stroke="#151515" stroke-width="1"/>
<text font-size="7.3" text-anchor="end" transform="translate(62.8 415.72) scale(1.040 1.000)" fill="#2a2a2a">40</text>
<line x1="66.2" y1="405.15" x2="70" y2="405.15" stroke="#151515" stroke-width="1"/>
<text font-size="7.3" text-anchor="end" transform="translate(62.8 407.75) scale(1.040 1.000)" fill="#2a2a2a">50</text>
<line x1="66.2" y1="397.18" x2="70" y2="397.18" stroke="#151515" stroke-width="1"/>
<text font-size="7.3" text-anchor="end" transform="translate(62.8 399.78) scale(1.040 1.000)" fill="#2a2a2a">60</text>
<line x1="66.2" y1="389.21" x2="70" y2="389.21" stroke="#151515" stroke-width="1"/>
<text font-size="7.3" text-anchor="end" transform="translate(62.8 391.81) scale(1.040 1.000)" fill="#2a2a2a">70</text>
<line x1="66.2" y1="381.24" x2="70" y2="381.24" stroke="#151515" stroke-width="1"/>
<text font-size="7.3" text-anchor="end" transform="translate(62.8 383.84) scale(1.040 1.000)" fill="#2a2a2a">80</text>
<line x1="66.2" y1="373.27" x2="70" y2="373.27" stroke="#151515" stroke-width="1"/>
<text font-size="7.3" text-anchor="end" transform="translate(62.8 375.87) scale(1.040 1.000)" fill="#2a2a2a">90</text>
<line x1="66.2" y1="365.3" x2="70" y2="365.3" stroke="#151515" stroke-width="1"/>
<text font-size="7.3" text-anchor="end" transform="translate(62.8 367.9) scale(1.040 1.000)" fill="#2a2a2a">100</text>
<line x1="70" y1="452.97" x2="201" y2="452.97" stroke="#151515" stroke-width="1.5"/>
<line x1="70" y1="445.5" x2="202" y2="445.5" stroke="#000" stroke-width="1.1" stroke-dasharray="1.3 1.2"/>
<line x1="86.2" y1="452.97" x2="86.2" y2="456.57" stroke="#151515" stroke-width="1"/>
<text font-size="7.4" text-anchor="end" transform="translate(89.2 463.17) rotate(-45) scale(1.050 1.000)" fill="#2a2a2a">10:1</text>
<line x1="111" y1="452.97" x2="111" y2="456.57" stroke="#151515" stroke-width="1"/>
<text font-size="7.4" text-anchor="end" transform="translate(114 463.17) rotate(-45) scale(1.050 1.000)" fill="#2a2a2a">3:1</text>
<line x1="135.8" y1="452.97" x2="135.8" y2="456.57" stroke="#151515" stroke-width="1"/>
<text font-size="7.4" text-anchor="end" transform="translate(138.8 463.17) rotate(-45) scale(1.050 1.000)" fill="#2a2a2a">1:1</text>
<line x1="160.6" y1="452.97" x2="160.6" y2="456.57" stroke="#151515" stroke-width="1"/>
<text font-size="7.4" text-anchor="end" transform="translate(163.6 463.17) rotate(-45) scale(1.050 1.000)" fill="#2a2a2a">1:3</text>
<line x1="185.4" y1="452.97" x2="185.4" y2="456.57" stroke="#151515" stroke-width="1"/>
<text font-size="7.4" text-anchor="end" transform="translate(188.4 463.17) rotate(-45) scale(1.050 1.000)" fill="#2a2a2a">1:10</text>
<text font-size="10.5" text-anchor="middle" font-weight="bold" transform="translate(42.9 407.53) rotate(-90) scale(0.621 1.000)" fill="#1a1a1a" style="stroke:#1a1a1a;stroke-width:0.3px">% specific lysis</text>
<text font-size="10" font-weight="bold" transform="translate(100.2 488.3) scale(0.664 1.000)" fill="#1a1a1a" style="stroke:none">E:T ratio (K562-BCMA)</text>
<polyline points="86.2,436.23 111,439.42 135.8,443.41 160.6,439.42 185.4,441.01" fill="none" stroke="#a6002d" stroke-width="1.1"/>
<polyline points="86.2,378.05 111,388.41 135.8,415.51 160.6,417.9 185.4,422.68" fill="none" stroke="#2b4a83" stroke-width="1.1"/>
<polyline points="86.2,400.37 111,409.93 135.8,419.5 160.6,420.29 185.4,424.28" fill="none" stroke="#4f2468" stroke-width="1.1"/>
<polyline points="86.2,378.45 111,389.21 135.8,414.71 160.6,415.51 185.4,421.89" fill="none" stroke="#68ad44" stroke-width="1.1"/>
<line x1="86.2" y1="431.45" x2="86.2" y2="441.01" stroke="#000" stroke-width="1"/>
<line x1="83.9" y1="431.45" x2="88.5" y2="431.45" stroke="#000" stroke-width="1.1"/>
<line x1="83.9" y1="441.01" x2="88.5" y2="441.01" stroke="#000" stroke-width="1.1"/>
<line x1="160.6" y1="436.23" x2="160.6" y2="442.61" stroke="#000" stroke-width="1"/>
<line x1="158.3" y1="436.23" x2="162.9" y2="436.23" stroke="#000" stroke-width="1.1"/>
<line x1="158.3" y1="442.61" x2="162.9" y2="442.61" stroke="#000" stroke-width="1.1"/>
<circle cx="86.2" cy="436.23" r="2.45" fill="#a6002d"/>
<circle cx="111" cy="439.42" r="2.45" fill="#a6002d"/>
<circle cx="135.8" cy="443.41" r="2.45" fill="#a6002d"/>
<circle cx="160.6" cy="439.42" r="2.45" fill="#a6002d"/>
<circle cx="185.4" cy="441.01" r="2.45" fill="#a6002d"/>
<line x1="86.2" y1="376.46" x2="86.2" y2="379.65" stroke="#000" stroke-width="1"/>
<line x1="83.9" y1="376.46" x2="88.5" y2="376.46" stroke="#000" stroke-width="1.1"/>
<line x1="83.9" y1="379.65" x2="88.5" y2="379.65" stroke="#000" stroke-width="1.1"/>
<line x1="111" y1="386.82" x2="111" y2="390.01" stroke="#000" stroke-width="1"/>
<line x1="108.7" y1="386.82" x2="113.3" y2="386.82" stroke="#000" stroke-width="1.1"/>
<line x1="108.7" y1="390.01" x2="113.3" y2="390.01" stroke="#000" stroke-width="1.1"/>
<line x1="160.6" y1="414.71" x2="160.6" y2="421.09" stroke="#000" stroke-width="1"/>
<line x1="158.3" y1="414.71" x2="162.9" y2="414.71" stroke="#000" stroke-width="1.1"/>
<line x1="158.3" y1="421.09" x2="162.9" y2="421.09" stroke="#000" stroke-width="1.1"/>
<circle cx="86.2" cy="378.05" r="2.45" fill="#2b4a83"/>
<circle cx="111" cy="388.41" r="2.45" fill="#2b4a83"/>
<circle cx="135.8" cy="415.51" r="2.45" fill="#2b4a83"/>
<circle cx="160.6" cy="417.9" r="2.45" fill="#2b4a83"/>
<circle cx="185.4" cy="422.68" r="2.45" fill="#2b4a83"/>
<line x1="86.2" y1="398.77" x2="86.2" y2="401.96" stroke="#000" stroke-width="1"/>
<line x1="83.9" y1="398.77" x2="88.5" y2="398.77" stroke="#000" stroke-width="1.1"/>
<line x1="83.9" y1="401.96" x2="88.5" y2="401.96" stroke="#000" stroke-width="1.1"/>
<line x1="111" y1="407.54" x2="111" y2="412.32" stroke="#000" stroke-width="1"/>
<line x1="108.7" y1="407.54" x2="113.3" y2="407.54" stroke="#000" stroke-width="1.1"/>
<line x1="108.7" y1="412.32" x2="113.3" y2="412.32" stroke="#000" stroke-width="1.1"/>
<line x1="135.8" y1="417.11" x2="135.8" y2="421.89" stroke="#000" stroke-width="1"/>
<line x1="133.5" y1="417.11" x2="138.1" y2="417.11" stroke="#000" stroke-width="1.1"/>
<line x1="133.5" y1="421.89" x2="138.1" y2="421.89" stroke="#000" stroke-width="1.1"/>
<line x1="160.6" y1="416.31" x2="160.6" y2="424.28" stroke="#000" stroke-width="1"/>
<line x1="158.3" y1="416.31" x2="162.9" y2="416.31" stroke="#000" stroke-width="1.1"/>
<line x1="158.3" y1="424.28" x2="162.9" y2="424.28" stroke="#000" stroke-width="1.1"/>
<line x1="185.4" y1="422.68" x2="185.4" y2="425.87" stroke="#000" stroke-width="1"/>
<line x1="183.1" y1="422.68" x2="187.7" y2="422.68" stroke="#000" stroke-width="1.1"/>
<line x1="183.1" y1="425.87" x2="187.7" y2="425.87" stroke="#000" stroke-width="1.1"/>
<circle cx="86.2" cy="400.37" r="2.45" fill="#4f2468"/>
<circle cx="111" cy="409.93" r="2.45" fill="#4f2468"/>
<circle cx="135.8" cy="419.5" r="2.45" fill="#4f2468"/>
<circle cx="160.6" cy="420.29" r="2.45" fill="#4f2468"/>
<circle cx="185.4" cy="424.28" r="2.45" fill="#4f2468"/>
<line x1="160.6" y1="411.53" x2="160.6" y2="414.71" stroke="#000" stroke-width="1"/>
<line x1="158.3" y1="411.53" x2="162.9" y2="411.53" stroke="#000" stroke-width="1.1"/>
<line x1="158.3" y1="414.71" x2="162.9" y2="414.71" stroke="#000" stroke-width="1.1"/>
<circle cx="86.2" cy="375.66" r="2.45" fill="#68ad44"/>
<circle cx="111" cy="386.82" r="2.45" fill="#68ad44"/>
<circle cx="135.8" cy="411.53" r="2.45" fill="#68ad44"/>
<circle cx="160.6" cy="413.12" r="2.45" fill="#68ad44"/>
<circle cx="185.4" cy="419.5" r="2.45" fill="#68ad44"/>
<circle cx="173.7" cy="369" r="2.2" fill="#a6002d"/>
<text font-size="6.5" transform="translate(179.8 371.3) scale(0.930 1.000)" fill="#2a2a2a">UTD</text>
<circle cx="173.7" cy="379.65" r="2.2" fill="#2b4a83"/>
<text font-size="6.5" transform="translate(179.8 381.95) scale(0.930 1.000)" fill="#2a2a2a">BCMA CAR</text>
<circle cx="173.7" cy="390.3" r="2.2" fill="#4f2468"/>
<text font-size="6.5" transform="translate(179.8 392.6) scale(0.930 1.000)" fill="#2a2a2a">APRIL CAR</text>
<circle cx="173.7" cy="400.95" r="2.2" fill="#68ad44"/>
<text font-size="6.5" transform="translate(179.8 403.25) scale(0.930 1.000)" fill="#2a2a2a">TriPRIL CAR</text>
<text font-size="14" font-weight="bold" transform="translate(285.6 352.1) scale(0.970 1.000)" fill="#000" style="stroke:#000;stroke-width:0.5px">E</text>
<line x1="335.3" y1="361.7" x2="335.3" y2="453.67" stroke="#151515" stroke-width="1.3"/>
<line x1="331.5" y1="452.97" x2="335.3" y2="452.97" stroke="#151515" stroke-width="1"/>
<text font-size="7.3" text-anchor="end" transform="translate(328.1 455.57) scale(1.040 1.000)" fill="#2a2a2a">-10</text>
<line x1="331.5" y1="445" x2="335.3" y2="445" stroke="#151515" stroke-width="1"/>
<text font-size="7.3" text-anchor="end" transform="translate(328.1 447.6) scale(1.040 1.000)" fill="#2a2a2a">0</text>
<line x1="331.5" y1="437.03" x2="335.3" y2="437.03" stroke="#151515" stroke-width="1"/>
<text font-size="7.3" text-anchor="end" transform="translate(328.1 439.63) scale(1.040 1.000)" fill="#2a2a2a">10</text>
<line x1="331.5" y1="429.06" x2="335.3" y2="429.06" stroke="#151515" stroke-width="1"/>
<text font-size="7.3" text-anchor="end" transform="translate(328.1 431.66) scale(1.040 1.000)" fill="#2a2a2a">20</text>
<line x1="331.5" y1="421.09" x2="335.3" y2="421.09" stroke="#151515" stroke-width="1"/>
<text font-size="7.3" text-anchor="end" transform="translate(328.1 423.69) scale(1.040 1.000)" fill="#2a2a2a">30</text>
<line x1="331.5" y1="413.12" x2="335.3" y2="413.12" stroke="#151515" stroke-width="1"/>
<text font-size="7.3" text-anchor="end" transform="translate(328.1 415.72) scale(1.040 1.000)" fill="#2a2a2a">40</text>
<line x1="331.5" y1="405.15" x2="335.3" y2="405.15" stroke="#151515" stroke-width="1"/>
<text font-size="7.3" text-anchor="end" transform="translate(328.1 407.75) scale(1.040 1.000)" fill="#2a2a2a">50</text>
<line x1="331.5" y1="397.18" x2="335.3" y2="397.18" stroke="#151515" stroke-width="1"/>
<text font-size="7.3" text-anchor="end" transform="translate(328.1 399.78) scale(1.040 1.000)" fill="#2a2a2a">60</text>
<line x1="331.5" y1="389.21" x2="335.3" y2="389.21" stroke="#151515" stroke-width="1"/>
<text font-size="7.3" text-anchor="end" transform="translate(328.1 391.81) scale(1.040 1.000)" fill="#2a2a2a">70</text>
<line x1="331.5" y1="381.24" x2="335.3" y2="381.24" stroke="#151515" stroke-width="1"/>
<text font-size="7.3" text-anchor="end" transform="translate(328.1 383.84) scale(1.040 1.000)" fill="#2a2a2a">80</text>
<line x1="331.5" y1="373.27" x2="335.3" y2="373.27" stroke="#151515" stroke-width="1"/>
<text font-size="7.3" text-anchor="end" transform="translate(328.1 375.87) scale(1.040 1.000)" fill="#2a2a2a">90</text>
<line x1="331.5" y1="365.3" x2="335.3" y2="365.3" stroke="#151515" stroke-width="1"/>
<text font-size="7.3" text-anchor="end" transform="translate(328.1 367.9) scale(1.040 1.000)" fill="#2a2a2a">100</text>
<line x1="335.3" y1="452.97" x2="466.5" y2="452.97" stroke="#151515" stroke-width="1.5"/>
<line x1="335.3" y1="445.5" x2="467.5" y2="445.5" stroke="#000" stroke-width="1.1" stroke-dasharray="1.3 1.2"/>
<line x1="351.5" y1="452.97" x2="351.5" y2="456.57" stroke="#151515" stroke-width="1"/>
<text font-size="7.4" text-anchor="end" transform="translate(354.5 463.17) rotate(-45) scale(1.050 1.000)" fill="#2a2a2a">10:1</text>
<line x1="376.3" y1="452.97" x2="376.3" y2="456.57" stroke="#151515" stroke-width="1"/>
<text font-size="7.4" text-anchor="end" transform="translate(379.3 463.17) rotate(-45) scale(1.050 1.000)" fill="#2a2a2a">3:1</text>
<line x1="401.1" y1="452.97" x2="401.1" y2="456.57" stroke="#151515" stroke-width="1"/>
<text font-size="7.4" text-anchor="end" transform="translate(404.1 463.17) rotate(-45) scale(1.050 1.000)" fill="#2a2a2a">1:1</text>
<line x1="425.9" y1="452.97" x2="425.9" y2="456.57" stroke="#151515" stroke-width="1"/>
<text font-size="7.4" text-anchor="end" transform="translate(428.9 463.17) rotate(-45) scale(1.050 1.000)" fill="#2a2a2a">1:3</text>
<line x1="450.7" y1="452.97" x2="450.7" y2="456.57" stroke="#151515" stroke-width="1"/>
<text font-size="7.4" text-anchor="end" transform="translate(453.7 463.17) rotate(-45) scale(1.050 1.000)" fill="#2a2a2a">1:10</text>
<text font-size="10.5" text-anchor="middle" font-weight="bold" transform="translate(308.3 407.53) rotate(-90) scale(0.621 1.000)" fill="#1a1a1a" style="stroke:#1a1a1a;stroke-width:0.3px">% specific lysis</text>
<text font-size="10" font-weight="bold" transform="translate(368 488.3) scale(0.666 1.000)" fill="#1a1a1a" style="stroke:none">E:T ratio (K562-TACI)</text>
<polyline points="351.5,428.26 376.3,437.03 401.1,437.03 425.9,436.23 450.7,441.01" fill="none" stroke="#a6002d" stroke-width="1.1"/>
<polyline points="351.5,415.51 376.3,425.07 401.1,431.45 425.9,436.23 450.7,437.83" fill="none" stroke="#2b4a83" stroke-width="1.1"/>
<polyline points="351.5,378.85 376.3,401.96 401.1,417.9 425.9,420.29 450.7,424.28" fill="none" stroke="#4f2468" stroke-width="1.1"/>
<polyline points="351.5,373.27 376.3,385.23 401.1,409.13 425.9,417.11 450.7,422.68" fill="none" stroke="#68ad44" stroke-width="1.1"/>
<line x1="351.5" y1="421.09" x2="351.5" y2="435.44" stroke="#000" stroke-width="1"/>
<line x1="349.2" y1="421.09" x2="353.8" y2="421.09" stroke="#000" stroke-width="1.1"/>
<line x1="349.2" y1="435.44" x2="353.8" y2="435.44" stroke="#000" stroke-width="1.1"/>
<line x1="401.1" y1="433.84" x2="401.1" y2="440.22" stroke="#000" stroke-width="1"/>
<line x1="398.8" y1="433.84" x2="403.4" y2="433.84" stroke="#000" stroke-width="1.1"/>
<line x1="398.8" y1="440.22" x2="403.4" y2="440.22" stroke="#000" stroke-width="1.1"/>
<line x1="425.9" y1="432.25" x2="425.9" y2="440.22" stroke="#000" stroke-width="1"/>
<line x1="423.6" y1="432.25" x2="428.2" y2="432.25" stroke="#000" stroke-width="1.1"/>
<line x1="423.6" y1="440.22" x2="428.2" y2="440.22" stroke="#000" stroke-width="1.1"/>
<circle cx="351.5" cy="428.26" r="2.45" fill="#a6002d"/>
<circle cx="376.3" cy="437.03" r="2.45" fill="#a6002d"/>
<circle cx="401.1" cy="437.03" r="2.45" fill="#a6002d"/>
<circle cx="425.9" cy="436.23" r="2.45" fill="#a6002d"/>
<circle cx="450.7" cy="441.01" r="2.45" fill="#a6002d"/>
<line x1="376.3" y1="422.68" x2="376.3" y2="427.47" stroke="#000" stroke-width="1"/>
<line x1="374" y1="422.68" x2="378.6" y2="422.68" stroke="#000" stroke-width="1.1"/>
<line x1="374" y1="427.47" x2="378.6" y2="427.47" stroke="#000" stroke-width="1.1"/>
<line x1="401.1" y1="429.06" x2="401.1" y2="433.84" stroke="#000" stroke-width="1"/>
<line x1="398.8" y1="429.06" x2="403.4" y2="429.06" stroke="#000" stroke-width="1.1"/>
<line x1="398.8" y1="433.84" x2="403.4" y2="433.84" stroke="#000" stroke-width="1.1"/>
<circle cx="351.5" cy="415.51" r="2.45" fill="#2b4a83"/>
<circle cx="376.3" cy="425.07" r="2.45" fill="#2b4a83"/>
<circle cx="401.1" cy="431.45" r="2.45" fill="#2b4a83"/>
<circle cx="425.9" cy="436.23" r="2.45" fill="#2b4a83"/>
<circle cx="450.7" cy="437.83" r="2.45" fill="#2b4a83"/>
<line x1="376.3" y1="400.37" x2="376.3" y2="403.56" stroke="#000" stroke-width="1"/>
<line x1="374" y1="400.37" x2="378.6" y2="400.37" stroke="#000" stroke-width="1.1"/>
<line x1="374" y1="403.56" x2="378.6" y2="403.56" stroke="#000" stroke-width="1.1"/>
<line x1="425.9" y1="417.9" x2="425.9" y2="422.68" stroke="#000" stroke-width="1"/>
<line x1="423.6" y1="417.9" x2="428.2" y2="417.9" stroke="#000" stroke-width="1.1"/>
<line x1="423.6" y1="422.68" x2="428.2" y2="422.68" stroke="#000" stroke-width="1.1"/>
<line x1="450.7" y1="421.89" x2="450.7" y2="426.67" stroke="#000" stroke-width="1"/>
<line x1="448.4" y1="421.89" x2="453" y2="421.89" stroke="#000" stroke-width="1.1"/>
<line x1="448.4" y1="426.67" x2="453" y2="426.67" stroke="#000" stroke-width="1.1"/>
<circle cx="351.5" cy="378.85" r="2.45" fill="#4f2468"/>
<circle cx="376.3" cy="401.96" r="2.45" fill="#4f2468"/>
<circle cx="401.1" cy="417.9" r="2.45" fill="#4f2468"/>
<circle cx="425.9" cy="420.29" r="2.45" fill="#4f2468"/>
<circle cx="450.7" cy="424.28" r="2.45" fill="#4f2468"/>
<line x1="376.3" y1="383.63" x2="376.3" y2="386.82" stroke="#000" stroke-width="1"/>
<line x1="374" y1="383.63" x2="378.6" y2="383.63" stroke="#000" stroke-width="1.1"/>
<line x1="374" y1="386.82" x2="378.6" y2="386.82" stroke="#000" stroke-width="1.1"/>
<line x1="425.9" y1="414.71" x2="425.9" y2="419.5" stroke="#000" stroke-width="1"/>
<line x1="423.6" y1="414.71" x2="428.2" y2="414.71" stroke="#000" stroke-width="1.1"/>
<line x1="423.6" y1="419.5" x2="428.2" y2="419.5" stroke="#000" stroke-width="1.1"/>
<line x1="450.7" y1="421.09" x2="450.7" y2="424.28" stroke="#000" stroke-width="1"/>
<line x1="448.4" y1="421.09" x2="453" y2="421.09" stroke="#000" stroke-width="1.1"/>
<line x1="448.4" y1="424.28" x2="453" y2="424.28" stroke="#000" stroke-width="1.1"/>
<circle cx="351.5" cy="373.27" r="2.45" fill="#68ad44"/>
<circle cx="376.3" cy="385.23" r="2.45" fill="#68ad44"/>
<circle cx="401.1" cy="409.13" r="2.45" fill="#68ad44"/>
<circle cx="425.9" cy="417.11" r="2.45" fill="#68ad44"/>
<circle cx="450.7" cy="422.68" r="2.45" fill="#68ad44"/>
<circle cx="440.7" cy="368.7" r="2.2" fill="#a6002d"/>
<text font-size="6.5" transform="translate(446.8 371) scale(0.930 1.000)" fill="#2a2a2a">UTD</text>
<circle cx="440.7" cy="379.35" r="2.2" fill="#2b4a83"/>
<text font-size="6.5" transform="translate(446.8 381.65) scale(0.930 1.000)" fill="#2a2a2a">BCMA CAR</text>
<circle cx="440.7" cy="390" r="2.2" fill="#4f2468"/>
<text font-size="6.5" transform="translate(446.8 392.3) scale(0.930 1.000)" fill="#2a2a2a">APRIL CAR</text>
<circle cx="440.7" cy="400.65" r="2.2" fill="#68ad44"/>
<text font-size="6.5" transform="translate(446.8 402.95) scale(0.930 1.000)" fill="#2a2a2a">TriPRIL CAR</text>
<text font-size="14" font-weight="bold" transform="translate(14 506.2) scale(0.970 1.000)" fill="#000" style="stroke:#000;stroke-width:0.5px">F</text>
<line x1="69.8" y1="528.2" x2="69.8" y2="660.6" stroke="#151515" stroke-width="1.3"/>
<line x1="66.2" y1="659.9" x2="69.8" y2="659.9" stroke="#151515" stroke-width="1"/>
<text font-size="7.3" text-anchor="end" transform="translate(63 662.4) scale(1.040 1.000)" fill="#2a2a2a">0</text>
<line x1="66.2" y1="647.56" x2="69.8" y2="647.56" stroke="#151515" stroke-width="1"/>
<text font-size="7.3" text-anchor="end" transform="translate(63 650.06) scale(1.040 1.000)" fill="#2a2a2a">10</text>
<line x1="66.2" y1="635.23" x2="69.8" y2="635.23" stroke="#151515" stroke-width="1"/>
<text font-size="7.3" text-anchor="end" transform="translate(63 637.73) scale(1.040 1.000)" fill="#2a2a2a">20</text>
<line x1="66.2" y1="622.89" x2="69.8" y2="622.89" stroke="#151515" stroke-width="1"/>
<text font-size="7.3" text-anchor="end" transform="translate(63 625.39) scale(1.040 1.000)" fill="#2a2a2a">30</text>
<line x1="66.2" y1="610.56" x2="69.8" y2="610.56" stroke="#151515" stroke-width="1"/>
<text font-size="7.3" text-anchor="end" transform="translate(63 613.06) scale(1.040 1.000)" fill="#2a2a2a">40</text>
<line x1="66.2" y1="598.23" x2="69.8" y2="598.23" stroke="#151515" stroke-width="1"/>
<text font-size="7.3" text-anchor="end" transform="translate(63 600.73) scale(1.040 1.000)" fill="#2a2a2a">50</text>
<line x1="66.2" y1="585.89" x2="69.8" y2="585.89" stroke="#151515" stroke-width="1"/>
<text font-size="7.3" text-anchor="end" transform="translate(63 588.39) scale(1.040 1.000)" fill="#2a2a2a">60</text>
<line x1="66.2" y1="573.55" x2="69.8" y2="573.55" stroke="#151515" stroke-width="1"/>
<text font-size="7.3" text-anchor="end" transform="translate(63 576.05) scale(1.040 1.000)" fill="#2a2a2a">70</text>
<line x1="66.2" y1="561.22" x2="69.8" y2="561.22" stroke="#151515" stroke-width="1"/>
<text font-size="7.3" text-anchor="end" transform="translate(63 563.72) scale(1.040 1.000)" fill="#2a2a2a">80</text>
<line x1="66.2" y1="548.88" x2="69.8" y2="548.88" stroke="#151515" stroke-width="1"/>
<text font-size="7.3" text-anchor="end" transform="translate(63 551.38) scale(1.040 1.000)" fill="#2a2a2a">90</text>
<line x1="66.2" y1="536.55" x2="69.8" y2="536.55" stroke="#151515" stroke-width="1"/>
<text font-size="7.3" text-anchor="end" transform="translate(63 539.05) scale(1.040 1.000)" fill="#2a2a2a">100</text>
<line x1="69.8" y1="659.9" x2="267.5" y2="659.9" stroke="#151515" stroke-width="1.5"/>
<text font-size="10.5" text-anchor="middle" font-weight="bold" transform="translate(47.4 599.5) rotate(-90) scale(0.660 1.000)" fill="#1a1a1a">% CD3<tspan font-size="5.5" dy="-3.2">+</tspan><tspan dy="3.2"> CD107a</tspan><tspan font-size="5.5" dy="-3.2">+</tspan></tspan></text>
<rect x="73.5" y="537.78" width="7.3" height="122.12" fill="#a6002d"/>
<line x1="77.15" y1="537.78" x2="77.15" y2="534.45" stroke="#000" stroke-width="1"/>
<line x1="75.15" y1="534.45" x2="79.15" y2="534.45" stroke="#000" stroke-width="1.2"/>
<rect x="84.3" y="537.78" width="7.3" height="122.12" fill="#2b4a83"/>
<line x1="87.95" y1="537.78" x2="87.95" y2="530.38" stroke="#000" stroke-width="1"/>
<line x1="85.95" y1="530.38" x2="89.95" y2="530.38" stroke="#000" stroke-width="1.2"/>
<rect x="95.1" y="537.78" width="7.3" height="122.12" fill="#4f2468"/>
<line x1="98.75" y1="537.78" x2="98.75" y2="528.53" stroke="#000" stroke-width="1"/>
<line x1="96.75" y1="528.53" x2="100.75" y2="528.53" stroke="#000" stroke-width="1.2"/>
<rect x="105.9" y="537.78" width="7.3" height="122.12" fill="#68ad44"/>
<line x1="109.55" y1="537.78" x2="109.55" y2="533.59" stroke="#000" stroke-width="1"/>
<line x1="107.55" y1="533.59" x2="111.55" y2="533.59" stroke="#000" stroke-width="1.2"/>
<line x1="93.3" y1="659.9" x2="93.3" y2="663.5" stroke="#151515" stroke-width="1"/>
<text font-size="7.6" text-anchor="end" transform="translate(96.6 670.1) rotate(-45)" fill="#2a2a2a">PMA stim</text>
<rect x="123.6" y="659.53" width="7.3" height="0.37" fill="#a6002d"/>
<line x1="127.25" y1="659.53" x2="127.25" y2="659.53" stroke="#000" stroke-width="1"/>
<line x1="125.25" y1="659.53" x2="129.25" y2="659.53" stroke="#000" stroke-width="1.2"/>
<rect x="134.4" y="534.08" width="7.3" height="125.82" fill="#2b4a83"/>
<line x1="138.05" y1="534.08" x2="138.05" y2="527.92" stroke="#000" stroke-width="1"/>
<line x1="136.05" y1="527.92" x2="140.05" y2="527.92" stroke="#000" stroke-width="1.2"/>
<rect x="145.2" y="625.36" width="7.3" height="34.54" fill="#4f2468"/>
<line x1="148.85" y1="625.36" x2="148.85" y2="621.04" stroke="#000" stroke-width="1"/>
<line x1="146.85" y1="621.04" x2="150.85" y2="621.04" stroke="#000" stroke-width="1.2"/>
<rect x="156" y="569.11" width="7.3" height="90.79" fill="#68ad44"/>
<line x1="159.65" y1="569.11" x2="159.65" y2="561.22" stroke="#000" stroke-width="1"/>
<line x1="157.65" y1="561.22" x2="161.65" y2="561.22" stroke="#000" stroke-width="1.2"/>
<line x1="143.4" y1="659.9" x2="143.4" y2="663.5" stroke="#151515" stroke-width="1"/>
<text font-size="7.6" text-anchor="end" transform="translate(146.7 670.1) rotate(-45)" fill="#2a2a2a">MM.1S</text>
<rect x="173.8" y="658.67" width="7.3" height="1.23" fill="#a6002d"/>
<line x1="177.45" y1="658.67" x2="177.45" y2="658.67" stroke="#000" stroke-width="1"/>
<line x1="175.45" y1="658.67" x2="179.45" y2="658.67" stroke="#000" stroke-width="1.2"/>
<rect x="184.6" y="563.69" width="7.3" height="96.21" fill="#2b4a83"/>
<line x1="188.25" y1="563.69" x2="188.25" y2="556.29" stroke="#000" stroke-width="1"/>
<line x1="186.25" y1="556.29" x2="190.25" y2="556.29" stroke="#000" stroke-width="1.2"/>
<rect x="195.4" y="650.65" width="7.3" height="9.25" fill="#4f2468"/>
<line x1="199.05" y1="650.65" x2="199.05" y2="646.95" stroke="#000" stroke-width="1"/>
<line x1="197.05" y1="646.95" x2="201.05" y2="646.95" stroke="#000" stroke-width="1.2"/>
<rect x="206.2" y="609.33" width="7.3" height="50.57" fill="#68ad44"/>
<line x1="209.85" y1="609.33" x2="209.85" y2="603.41" stroke="#000" stroke-width="1"/>
<line x1="207.85" y1="603.41" x2="211.85" y2="603.41" stroke="#000" stroke-width="1.2"/>
<line x1="193.6" y1="659.9" x2="193.6" y2="663.5" stroke="#151515" stroke-width="1"/>
<text font-size="7.6" text-anchor="end" transform="translate(198.4 671.1) rotate(-45)" fill="#2a2a2a">RPMI8226</text>
<rect x="225.8" y="659.28" width="7.3" height="0.62" fill="#a6002d"/>
<line x1="229.45" y1="659.28" x2="229.45" y2="658.67" stroke="#000" stroke-width="1"/>
<line x1="227.45" y1="658.67" x2="231.45" y2="658.67" stroke="#000" stroke-width="1.2"/>
<rect x="236.6" y="659.16" width="7.3" height="0.74" fill="#2b4a83"/>
<line x1="240.25" y1="659.16" x2="240.25" y2="658.54" stroke="#000" stroke-width="1"/>
<line x1="238.25" y1="658.54" x2="242.25" y2="658.54" stroke="#000" stroke-width="1.2"/>
<rect x="247.4" y="658.91" width="7.3" height="0.99" fill="#4f2468"/>
<line x1="251.05" y1="658.91" x2="251.05" y2="657.93" stroke="#000" stroke-width="1"/>
<line x1="249.05" y1="657.93" x2="253.05" y2="657.93" stroke="#000" stroke-width="1.2"/>
<rect x="258.2" y="659.16" width="7.3" height="0.74" fill="#68ad44"/>
<line x1="261.85" y1="659.16" x2="261.85" y2="658.42" stroke="#000" stroke-width="1"/>
<line x1="259.85" y1="658.42" x2="263.85" y2="658.42" stroke="#000" stroke-width="1.2"/>
<line x1="245.6" y1="659.9" x2="245.6" y2="663.5" stroke="#151515" stroke-width="1"/>
<text font-size="7.6" text-anchor="end" transform="translate(251.2 670.7) rotate(-45)" fill="#2a2a2a">no stim</text>
<rect x="89.5" y="715" width="12" height="7.6" fill="#a6002d"/>
<text font-size="7.6" transform="translate(105.9 721.5)" fill="#222">UTD</text>
<rect x="89.5" y="731.5" width="12" height="7.6" fill="#2b4a83"/>
<text font-size="7.6" transform="translate(105.9 738)" fill="#222">BCMA CAR</text>
<rect x="167" y="715" width="12" height="7.6" fill="#4f2468"/>
<text font-size="7.6" transform="translate(183.4 721.5)" fill="#222">APRIL CAR</text>
<rect x="167" y="731.5" width="12" height="7.6" fill="#68ad44"/>
<text font-size="7.6" transform="translate(183.4 738)" fill="#222">TriPRIL CAR</text>
<text font-size="14" font-weight="bold" transform="translate(286 506.2) scale(0.970 1.000)" fill="#000" style="stroke:#000;stroke-width:0.5px">G</text>
<defs><linearGradient id="cb" x1="0" y1="0" x2="0" y2="1"><stop offset="0" stop-color="#b9423f"/><stop offset="0.1" stop-color="#c4615e"/><stop offset="0.262" stop-color="#dca5a3"/><stop offset="0.445" stop-color="#f5eaea"/><stop offset="0.5" stop-color="#ffffff"/><stop offset="0.627" stop-color="#d9eaf8"/><stop offset="0.81" stop-color="#9fcbef"/><stop offset="1" stop-color="#6aade3"/></linearGradient></defs>
<rect x="335.5" y="514.9" width="13.5" height="168" fill="url(#cb)" stroke="#111" stroke-width="1.5"/>
<line x1="331.8" y1="651" x2="335.5" y2="651" stroke="#151515" stroke-width="1.2"/>
<line x1="345.3" y1="651" x2="349" y2="651" stroke="#151515" stroke-width="1.2"/>
<text font-size="7.4" text-anchor="end" transform="translate(331.3 653.6) scale(1.040 1.000)" fill="#2a2a2a">20</text>
<line x1="331.8" y1="620.3" x2="335.5" y2="620.3" stroke="#151515" stroke-width="1.2"/>
<line x1="345.3" y1="620.3" x2="349" y2="620.3" stroke="#151515" stroke-width="1.2"/>
<text font-size="7.4" text-anchor="end" transform="translate(331.3 622.9) scale(1.040 1.000)" fill="#2a2a2a">40</text>
<line x1="331.8" y1="589.6" x2="335.5" y2="589.6" stroke="#151515" stroke-width="1.2"/>
<line x1="345.3" y1="589.6" x2="349" y2="589.6" stroke="#151515" stroke-width="1.2"/>
<text font-size="7.4" text-anchor="end" transform="translate(331.3 592.2) scale(1.040 1.000)" fill="#2a2a2a">60</text>
<line x1="331.8" y1="558.9" x2="335.5" y2="558.9" stroke="#151515" stroke-width="1.2"/>
<line x1="345.3" y1="558.9" x2="349" y2="558.9" stroke="#151515" stroke-width="1.2"/>
<text font-size="7.4" text-anchor="end" transform="translate(331.3 561.5) scale(1.040 1.000)" fill="#2a2a2a">80</text>
<line x1="331.8" y1="528.2" x2="335.5" y2="528.2" stroke="#151515" stroke-width="1.2"/>
<line x1="345.3" y1="528.2" x2="349" y2="528.2" stroke="#151515" stroke-width="1.2"/>
<text font-size="7.4" text-anchor="end" transform="translate(331.3 530.8) scale(1.040 1.000)" fill="#2a2a2a">100</text>
<text font-size="10.5" text-anchor="middle" font-weight="bold" transform="translate(313.3 599.4) rotate(-90) scale(0.670 1.000)" fill="#1a1a1a">% CD3<tspan font-size="5.5" dy="-3.2">+</tspan><tspan dy="3.2"> CD69</tspan><tspan font-size="5.5" dy="-3.2">+</tspan></tspan></text>
<rect x="358.5" y="514.9" width="28.25" height="28.08" fill="#c46461"/>
<rect x="386.75" y="514.9" width="28.25" height="28.08" fill="#c2605c"/>
<rect x="415" y="514.9" width="28.25" height="28.08" fill="#c2605c"/>
<rect x="443.25" y="514.9" width="28.25" height="28.08" fill="#c2605c"/>
<rect x="358.5" y="542.98" width="28.25" height="28.08" fill="#7bbde9"/>
<rect x="386.75" y="542.98" width="28.25" height="28.08" fill="#e8c4c3"/>
<rect x="415" y="542.98" width="28.25" height="28.08" fill="#f0f6fc"/>
<rect x="443.25" y="542.98" width="28.25" height="28.08" fill="#e3bdbb"/>
<rect x="358.5" y="571.07" width="28.25" height="28.08" fill="#7bbde9"/>
<rect x="386.75" y="571.07" width="28.25" height="28.08" fill="#f0dad9"/>
<rect x="415" y="571.07" width="28.25" height="28.08" fill="#f8fbfe"/>
<rect x="443.25" y="571.07" width="28.25" height="28.08" fill="#f0dcdc"/>
<rect x="358.5" y="599.15" width="28.25" height="28.08" fill="#72b3e6"/>
<rect x="386.75" y="599.15" width="28.25" height="28.08" fill="#bb3e3a"/>
<rect x="415" y="599.15" width="28.25" height="28.08" fill="#eef5fc"/>
<rect x="443.25" y="599.15" width="28.25" height="28.08" fill="#c35e5b"/>
<rect x="358.5" y="627.23" width="28.25" height="28.08" fill="#6fb0e5"/>
<rect x="386.75" y="627.23" width="28.25" height="28.08" fill="#78bbe9"/>
<rect x="415" y="627.23" width="28.25" height="28.08" fill="#f2dedd"/>
<rect x="443.25" y="627.23" width="28.25" height="28.08" fill="#c66d6a"/>
<rect x="358.5" y="655.32" width="28.25" height="28.08" fill="#72b2e6"/>
<rect x="386.75" y="655.32" width="28.25" height="28.08" fill="#72b2e6"/>
<rect x="415" y="655.32" width="28.25" height="28.08" fill="#72b2e6"/>
<rect x="443.25" y="655.32" width="28.25" height="28.08" fill="#72b2e6"/>
<line x1="386.75" y1="514.9" x2="386.75" y2="683.4" stroke="#fff" stroke-width="0.9"/>
<line x1="415" y1="514.9" x2="415" y2="683.4" stroke="#fff" stroke-width="0.9"/>
<line x1="443.25" y1="514.9" x2="443.25" y2="683.4" stroke="#fff" stroke-width="0.9"/>
<line x1="358.5" y1="542.98" x2="471.5" y2="542.98" stroke="#fff" stroke-width="0.9"/>
<line x1="358.5" y1="571.07" x2="471.5" y2="571.07" stroke="#fff" stroke-width="0.9"/>
<line x1="358.5" y1="599.15" x2="471.5" y2="599.15" stroke="#fff" stroke-width="0.9"/>
<line x1="358.5" y1="627.23" x2="471.5" y2="627.23" stroke="#fff" stroke-width="0.9"/>
<line x1="358.5" y1="655.32" x2="471.5" y2="655.32" stroke="#fff" stroke-width="0.9"/>
<rect x="358.5" y="514.9" width="113" height="168.5" fill="none" stroke="#111" stroke-width="1.5"/>
<text font-size="7.9" transform="translate(474.3 531.84) scale(0.965 1.000)" fill="#2a2a2a">PMA stim</text>
<text font-size="7.9" transform="translate(474.3 559.92) scale(0.965 1.000)" fill="#2a2a2a">MM.1S</text>
<text font-size="7.9" transform="translate(474.3 588.01) scale(0.965 1.000)" fill="#2a2a2a">RPMI8226</text>
<text font-size="7.9" transform="translate(474.3 616.09) scale(0.965 1.000)" fill="#2a2a2a">K562-BCMA</text>
<text font-size="7.9" transform="translate(474.3 644.17) scale(0.965 1.000)" fill="#2a2a2a">K562-TACI</text>
<text font-size="7.9" transform="translate(474.3 672.26) scale(0.965 1.000)" fill="#2a2a2a">no stim</text>
<text font-size="7.7" text-anchor="end" transform="translate(376.93 692) rotate(-45)" fill="#2a2a2a">UTD</text>
<text font-size="7.7" text-anchor="end" transform="translate(405.18 692) rotate(-45)" fill="#2a2a2a">BCMA CAR</text>
<text font-size="7.7" text-anchor="end" transform="translate(433.43 692) rotate(-45)" fill="#2a2a2a">APRIL CAR</text>
<text font-size="7.7" text-anchor="end" transform="translate(461.68 692) rotate(-45)" fill="#2a2a2a">TriPRIL CAR</text>
</svg></div></body></html>
